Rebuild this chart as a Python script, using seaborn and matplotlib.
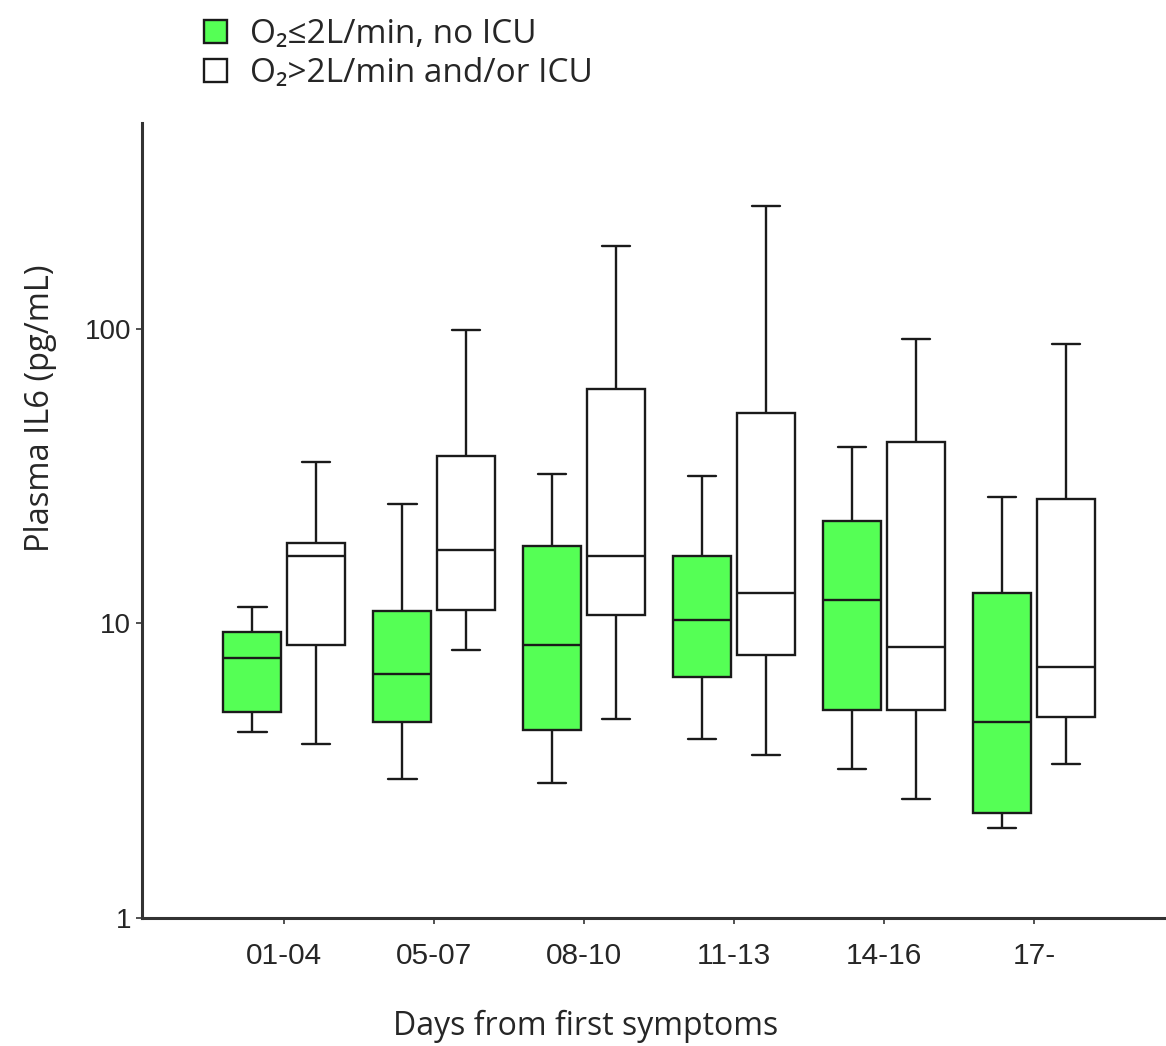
import pandas as pd
import matplotlib
matplotlib.use("Agg")
import matplotlib.pyplot as plt
import seaborn as sns

# days since first symptoms
days = ['01-04', '05-07', '08-10', '11-13', '14-16', '17-']
groups = ['O\u2082\u22642L/min, no ICU', 'O\u2082>2L/min and/or ICU']

# five-number summaries (pg/mL)
mild_low = [4.29, 2.97, 2.88, 4.06, 3.21, 2.02]
mild_q1 = [5.02, 4.64, 4.36, 6.60, 5.10, 2.28]
mild_median = [7.66, 6.71, 8.42, 10.24, 11.97, 4.64]
mild_q3 = [9.32, 10.99, 18.3, 17.0, 22.2, 12.65]
mild_high = [11.34, 25.4, 32.1, 31.6, 39.7, 26.8]

severe_low = [3.91, 8.15, 4.72, 3.58, 2.54, 3.34]
severe_q1 = [8.42, 11.07, 10.65, 7.84, 5.10, 4.83]
severe_median = [17.0, 17.7, 17.0, 12.65, 8.29, 7.14]
severe_q3 = [18.7, 37.0, 62.5, 51.8, 41.3, 26.4]
severe_high = [35.3, 99.2, 191.6, 262.0, 92.5, 88.9]

colors = ['#55FF55', '#FFFFFF']

# long table: 5 values per box -> quartiles/whiskers reproduce the summary exactly
rows = []
summaries = {
    groups[0]: [mild_low, mild_q1, mild_median, mild_q3, mild_high],
    groups[1]: [severe_low, severe_q1, severe_median, severe_q3, severe_high],
}
for g, stats in summaries.items():
    for i, d in enumerate(days):
        for s in stats:
            rows.append({'day': d, 'group': g, 'il6': s[i]})
df = pd.DataFrame(rows)

sns.set_style('ticks')
plt.rcParams['font.family'] = ['Liberation Sans', 'DejaVu Sans']

fig = plt.figure(figsize=(11.66, 10.46), dpi=100)
ax = fig.add_axes([142 / 1166, 1 - 918 / 1046, 1024 / 1166, 795 / 1046])

sns.boxplot(data=df, x='day', y='il6', hue='group', order=days, hue_order=groups,
            palette=dict(zip(groups, colors)), whis=(0, 100), width=0.85, gap=0.1,
            linecolor='#1a1a1a', linewidth=1.7, fliersize=0, log_scale=True,
            saturation=1, ax=ax)

ax.set_ylim(1, 500)
ax.set_xlim(-0.947, 5.88)
ax.set_yticks([1, 10, 100])
ax.set_yticklabels(['1', '10', '100'])
ax.yaxis.set_minor_locator(matplotlib.ticker.NullLocator())
ax.tick_params(axis='both', length=4, width=1.2, color='#333333')
ax.tick_params(axis='y', labelsize=20, pad=4)
ax.tick_params(axis='x', labelsize=21.5, pad=13)

sns.despine(ax=ax)
for sp in ['left', 'bottom']:
    ax.spines[sp].set_linewidth(2.2)
    ax.spines[sp].set_color('#333333')

label_font = ['Open Sans', 'DejaVu Sans']
ax.set_xlabel('Days from first symptoms', fontsize=23, family=label_font)
ax.set_ylabel('Plasma IL6 (pg/mL)', fontsize=23.5, family=label_font)
ax.xaxis.set_label_coords(0.4336, -0.115)
ax.yaxis.set_label_coords(-0.083, 0.6415)

handles, labels = ax.get_legend_handles_labels()
ax.get_legend().remove()
fig.legend(handles, labels, loc='upper left', bbox_to_anchor=(204 / 1166, 1 - 18 / 1046),
           frameon=False, prop={'family': label_font, 'size': 24},
           handlelength=0.68, handleheight=0.68, handletextpad=0.7, labelspacing=0.18,
           borderpad=0, borderaxespad=0)

fig.savefig('out.png', dpi=100)
